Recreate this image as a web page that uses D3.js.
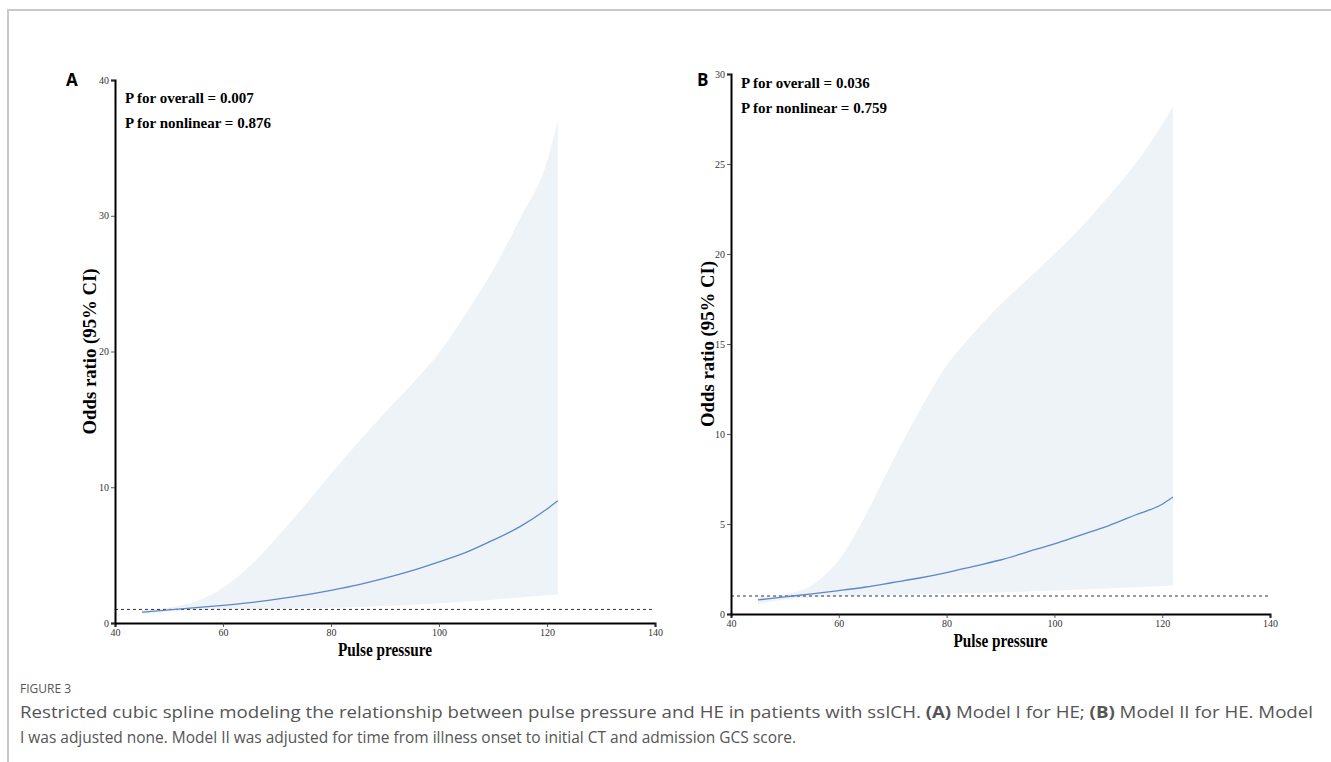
<!DOCTYPE html>
<html lang="en">
<head>
<meta charset="UTF-8">
<title>Restricted cubic spline - pulse pressure and HE</title>
<script src="https://d3js.org/d3.v7.min.js"></script>
<style>
    body {
        margin: 0;
        background: #fff;
    }
    .tick text {
        font-family: "Liberation Serif", "Times New Roman", serif;
        font-size: 10px;
        fill: #333;
    }
    .serif-bold {
        font-family: "Liberation Serif", "Times New Roman", serif;
        font-weight: bold;
        fill: #000;
    }
    .caption {
        font-family: "Open Sans", "Noto Sans", sans-serif;
        fill: #555;
    }
</style>
</head>
<body>
<div id="chart"></div>
<script>
    // pulse pressure grid the spline was read at
    const pulseA = [45, 50, 55, 60, 65, 70, 75, 80, 85, 90, 95, 100, 105, 110, 115, 120, 122];
    const orA    = [0.8, 0.96, 1.13, 1.3, 1.5, 1.76, 2.05, 2.4, 2.8, 3.3, 3.85, 4.5, 5.2, 6.1, 7.1, 8.4, 9.0];
    const lowerA = [0.6, 0.85, 0.95, 1.0, 1.02, 1.05, 1.08, 1.12, 1.18, 1.25, 1.35, 1.45, 1.58, 1.72, 1.88, 2.05, 2.1];
    const upperA = [0.95, 1.15, 1.6, 2.6, 4.2, 6.3, 8.6, 11.0, 13.3, 15.5, 17.6, 19.9, 22.8, 26.0, 29.8, 34.0, 37.0];

    const pulseB = [45, 50, 55, 60, 65, 70, 75, 80, 85, 90, 95, 100, 105, 110, 115, 120, 122];
    const orB    = [0.78, 0.95, 1.12, 1.3, 1.5, 1.75, 2.0, 2.3, 2.65, 3.0, 3.45, 3.9, 4.4, 4.9, 5.5, 6.1, 6.5];
    const lowerB = [0.55, 0.8, 0.92, 0.98, 1.02, 1.05, 1.08, 1.12, 1.16, 1.2, 1.25, 1.3, 1.36, 1.42, 1.48, 1.55, 1.58];
    const upperB = [0.95, 1.1, 1.6, 3.0, 5.5, 8.5, 11.3, 13.8, 15.6, 17.2, 18.6, 20.0, 21.5, 23.2, 25.0, 27.2, 28.2];

    const xTicks = [40, 60, 80, 100, 120, 140];
    const yTicksA = [0, 10, 20, 30, 40];
    const yTicksB = [0, 5, 10, 15, 20, 25, 30];

    const pTextA = ["P for overall = 0.007", "P for nonlinear = 0.876"];
    const pTextB = ["P for overall = 0.036", "P for nonlinear = 0.759"];

    const width = 1331;
    const height = 762;

    const svg = d3.select("#chart").append("svg")
        .attr("width", width)
        .attr("height", height);

    // light frame on top and left like the journal page
    svg.append("path")
        .attr("d", `M8,${height} V10 H${width}`)
        .attr("fill", "none")
        .attr("stroke", "#c9c9c9")
        .attr("stroke-width", 2);

    const panels = [
        { label: "A", x: pulseA, or: orA, lo: lowerA, hi: upperA, yTicks: yTicksA, yMax: 40, p: pTextA,
          left: 115, right: 655, top: 80, bottom: 623, labelX: 66, labelY: 86, titleX: 90, pY: 103 },
        { label: "B", x: pulseB, or: orB, lo: lowerB, hi: upperB, yTicks: yTicksB, yMax: 30, p: pTextB,
          left: 731, right: 1270, top: 74, bottom: 614, labelX: 697, labelY: 86, titleX: 708, pY: 88 }
    ];

    panels.forEach(drawPanel);

    function drawPanel(pn) {
        const g = svg.append("g");

        const x = d3.scaleLinear().domain([40, 140]).range([pn.left, pn.right]);
        const y = d3.scaleLinear().domain([0, pn.yMax]).range([pn.bottom, pn.top]);

        const rows = pn.x.map((v, i) => ({ x: v, or: pn.or[i], lo: pn.lo[i], hi: pn.hi[i] }));

        // confidence band
        g.append("path")
            .datum(rows)
            .attr("fill", "#eef3f8")
            .attr("d", d3.area()
                .curve(d3.curveMonotoneX)
                .x(d => x(d.x))
                .y0(d => y(d.lo))
                .y1(d => y(d.hi)));

        // reference line at OR = 1
        g.append("line")
            .attr("x1", x(40)).attr("x2", x(140))
            .attr("y1", y(1)).attr("y2", y(1))
            .attr("stroke", "#333")
            .attr("stroke-width", 1)
            .attr("stroke-dasharray", "3,3");

        // OR curve
        g.append("path")
            .datum(rows)
            .attr("fill", "none")
            .attr("stroke", "#5f87c6")
            .attr("stroke-width", 1.3)
            .attr("d", d3.line()
                .curve(d3.curveMonotoneX)
                .x(d => x(d.x))
                .y(d => y(d.or)));

        // axes
        const xAxis = g.append("g")
            .attr("transform", `translate(0,${pn.bottom})`)
            .call(d3.axisBottom(x).tickValues(xTicks).tickSize(4).tickPadding(2));
        const yAxis = g.append("g")
            .attr("transform", `translate(${pn.left},0)`)
            .call(d3.axisLeft(y).tickValues(pn.yTicks).tickSize(4).tickPadding(2));

        [xAxis, yAxis].forEach(a => {
            a.select(".domain").attr("stroke", "#000").attr("stroke-width", 2);
            a.selectAll(".tick line").attr("stroke", "#333").attr("stroke-width", 0.8);
        });

        // titles
        g.append("text")
            .attr("class", "serif-bold")
            .attr("x", (pn.left + pn.right) / 2)
            .attr("y", pn.bottom + 33)
            .attr("text-anchor", "middle")
            .attr("font-size", 19)
            .attr("textLength", 94)
            .attr("lengthAdjust", "spacingAndGlyphs")
            .text("Pulse pressure");

        g.append("text")
            .attr("class", "serif-bold")
            .attr("transform", `translate(${pn.titleX},${(pn.top + pn.bottom) / 2}) rotate(-90)`)
            .attr("text-anchor", "middle")
            .attr("dy", "0.35em")
            .attr("font-size", 18)
            .attr("textLength", 166)
            .attr("lengthAdjust", "spacingAndGlyphs")
            .text("Odds ratio (95% CI)");

        pn.p.forEach((t, i) => {
            g.append("text")
                .attr("class", "serif-bold")
                .attr("x", pn.left + 10)
                .attr("y", pn.pY + i * 25)
                .attr("font-size", 15)
                .text(t);
        });

        // panel letter
        g.append("text")
            .attr("x", pn.labelX)
            .attr("y", pn.labelY)
            .attr("font-family", "'Open Sans', 'Noto Sans', sans-serif")
            .attr("font-weight", "bold")
            .attr("font-size", 17)
            .attr("fill", "#000")
            .text(pn.label);
    }

    // figure caption
    svg.append("text")
        .attr("class", "caption")
        .attr("x", 20).attr("y", 693)
        .attr("font-size", 12)
        .text("FIGURE 3");

    const cap1 = svg.append("text")
        .attr("class", "caption")
        .attr("x", 20).attr("y", 718)
        .attr("font-size", 16)
        .attr("textLength", 1293)
        .attr("lengthAdjust", "spacingAndGlyphs");
    cap1.append("tspan").text("Restricted cubic spline modeling the relationship between pulse pressure and HE in patients with ssICH. ");
    cap1.append("tspan").attr("font-weight", "bold").text("(A)");
    cap1.append("tspan").text(" Model I for HE; ");
    cap1.append("tspan").attr("font-weight", "bold").text("(B)");
    cap1.append("tspan").text(" Model II for HE. Model");

    svg.append("text")
        .attr("class", "caption")
        .attr("x", 20).attr("y", 743)
        .attr("font-size", 16)
        .attr("textLength", 776)
        .attr("lengthAdjust", "spacingAndGlyphs")
        .text("I was adjusted none. Model II was adjusted for time from illness onset to initial CT and admission GCS score.");
</script>
</body>
</html>
